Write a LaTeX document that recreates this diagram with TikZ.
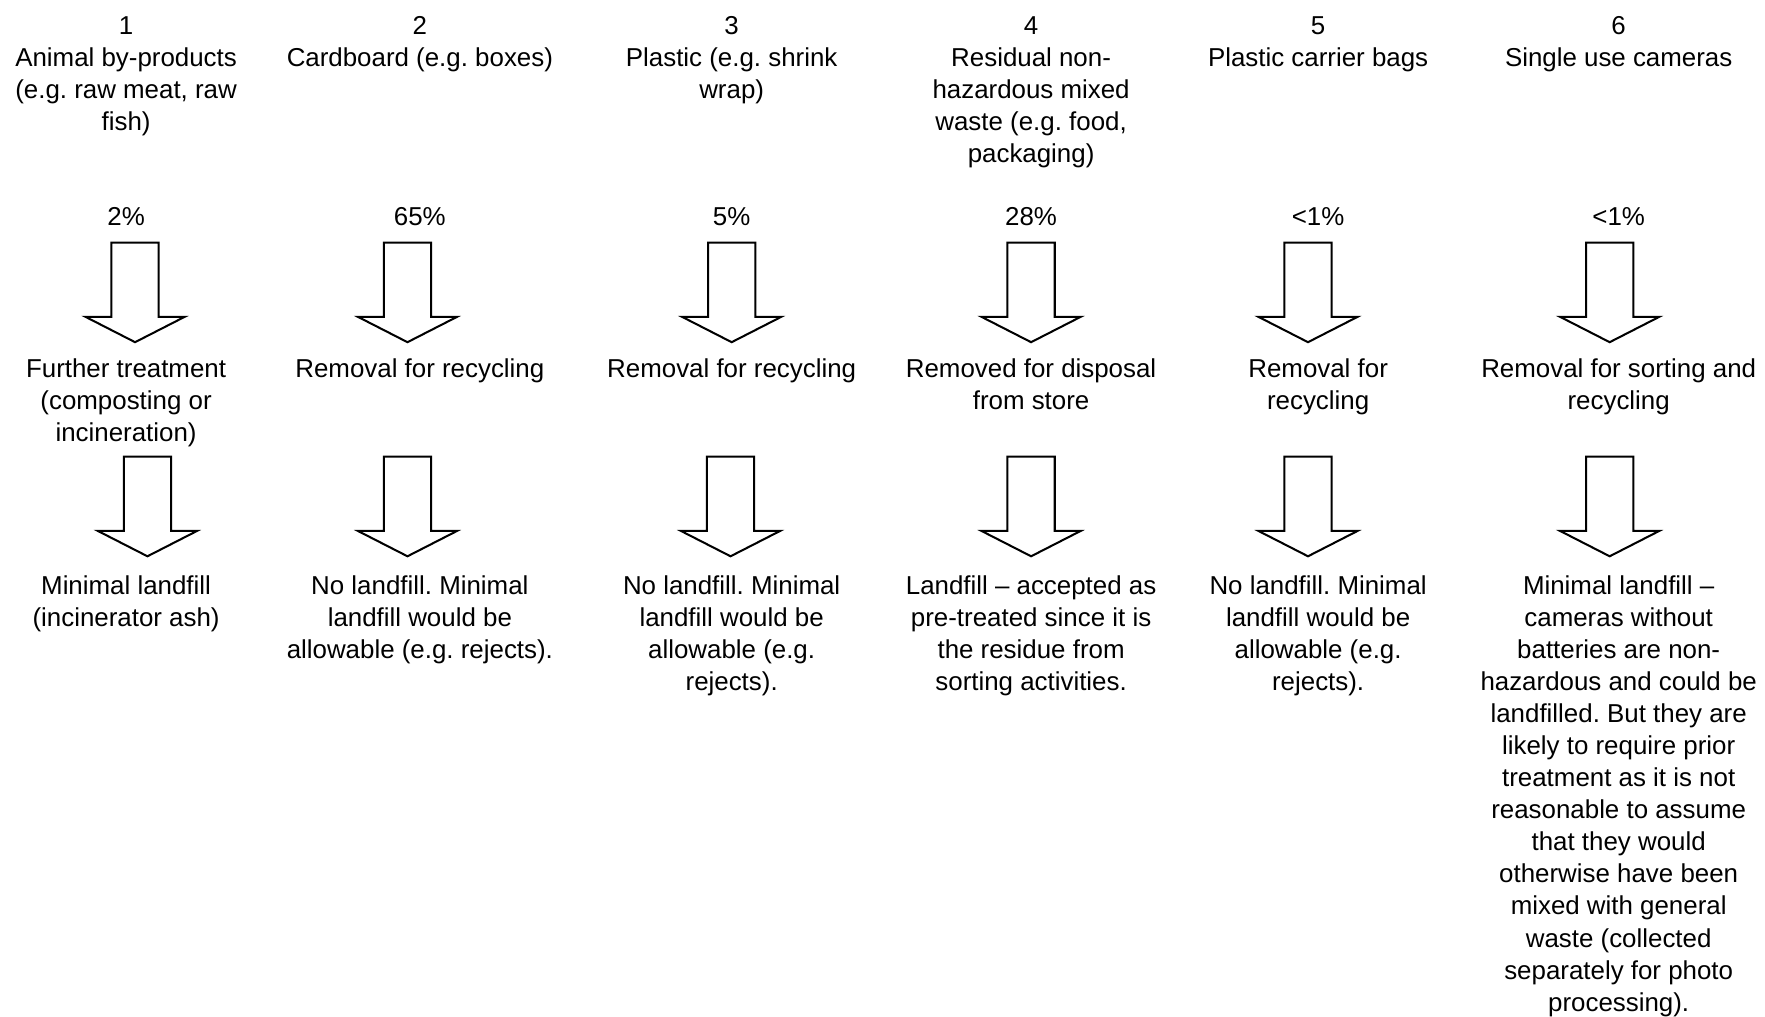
\documentclass[tikz,border=0pt]{standalone}
\usepackage{fontspec}
\setmainfont{Liberation Sans}
\usetikzlibrary{positioning}
\frenchspacing

% hollow block arrow pointing down, hung from its top centre
\newcommand{\wastearrow}[1]{%
  \draw[blockarrow] (#1) ++(-21,0) -- ++(42,0) -- ++(0,66) -- ++(23,0)
    -- ++(-44,22.5) -- ++(-44,-22.5) -- ++(23,0) -- cycle;}

\begin{document}
\begin{tikzpicture}[
    x=0.5pt, y=-0.5pt,
    txt/.style={align=center, inner sep=0pt, anchor=north, font=\fontsize{11.5}{14.25}\selectfont},
    blockarrow/.style={draw, line width=0.9pt, fill=white, line join=miter}
]
\useasboundingbox (0,0) rectangle (1568,903);

% Waste streams
\node[txt] (head1) at (112,10) {\strut 1\\Animal by-products\\(e.g. raw meat, raw\\fish)};
\node[txt] (head2) at (373,10) {\strut 2\\Cardboard (e.g. boxes)};
\node[txt] (head3) at (650,10) {\strut 3\\Plastic (e.g. shrink\\wrap)};
\node[txt] (head4) at (916,10) {\strut 4\\Residual non-\\hazardous mixed\\waste (e.g. food,\\packaging)};
\node[txt] (head5) at (1171,10) {\strut 5\\Plastic carrier bags};
\node[txt] (head6) at (1438,10) {\strut 6\\Single use cameras};

% Shares
\node[txt] (pct1) at (112,180) {\strut 2\%};
\node[txt] (pct2) at (373,180) {\strut 65\%};
\node[txt] (pct3) at (650,180) {\strut 5\%};
\node[txt] (pct4) at (916,180) {\strut 28\%};
\node[txt] (pct5) at (1171,180) {\strut <1\%};
\node[txt] (pct6) at (1438,180) {\strut <1\%};

% First arrows
\coordinate (arr1a) at (120,215.5);
\coordinate (arr2a) at (362,215.5);
\coordinate (arr3a) at (650,215.5);
\coordinate (arr4a) at (916,215.5);
\coordinate (arr5a) at (1162,215.5);
\coordinate (arr6a) at (1430,215.5);
\wastearrow{arr1a}
\wastearrow{arr2a}
\wastearrow{arr3a}
\wastearrow{arr4a}
\wastearrow{arr5a}
\wastearrow{arr6a}

% Handling
\node[txt] (mid1) at (112,315) {\strut Further treatment\\(composting or\\incineration)};
\node[txt] (mid2) at (373,315) {\strut Removal for recycling};
\node[txt] (mid3) at (650,315) {\strut Removal for recycling};
\node[txt] (mid4) at (916,315) {\strut Removed for disposal\\from store};
\node[txt] (mid5) at (1171,315) {\strut Removal for\\recycling};
\node[txt] (mid6) at (1438,315) {\strut Removal for sorting and\\recycling};

% Second arrows
\coordinate (arr1b) at (131,405.7);
\coordinate (arr2b) at (362,405.7);
\coordinate (arr3b) at (649,405.7);
\coordinate (arr4b) at (916,405.7);
\coordinate (arr5b) at (1162,405.7);
\coordinate (arr6b) at (1430,405.7);
\wastearrow{arr1b}
\wastearrow{arr2b}
\wastearrow{arr3b}
\wastearrow{arr4b}
\wastearrow{arr5b}
\wastearrow{arr6b}

% Landfill outcome
\node[txt] (out1) at (112,507.5) {\strut Minimal landfill\\(incinerator ash)};
\node[txt] (out2) at (373,507.5) {\strut No landfill. Minimal\\landfill would be\\allowable (e.g. rejects).};
\node[txt] (out3) at (650,507.5) {\strut No landfill. Minimal\\landfill would be\\allowable (e.g.\\rejects).};
\node[txt] (out4) at (916,507.5) {\strut Landfill -- accepted as\\pre-treated since it is\\the residue from\\sorting activities.};
\node[txt] (out5) at (1171,507.5) {\strut No landfill. Minimal\\landfill would be\\allowable (e.g.\\rejects).};
\node[txt] (out6) at (1438,507.5) {\strut Minimal landfill --\\cameras without\\batteries are non-\\hazardous and could be\\landfilled. But they are\\likely to require prior\\treatment as it is not\\reasonable to assume\\that they would\\otherwise have been\\mixed with general\\waste (collected\\separately for photo\\processing).};

\end{tikzpicture}
\end{document}
